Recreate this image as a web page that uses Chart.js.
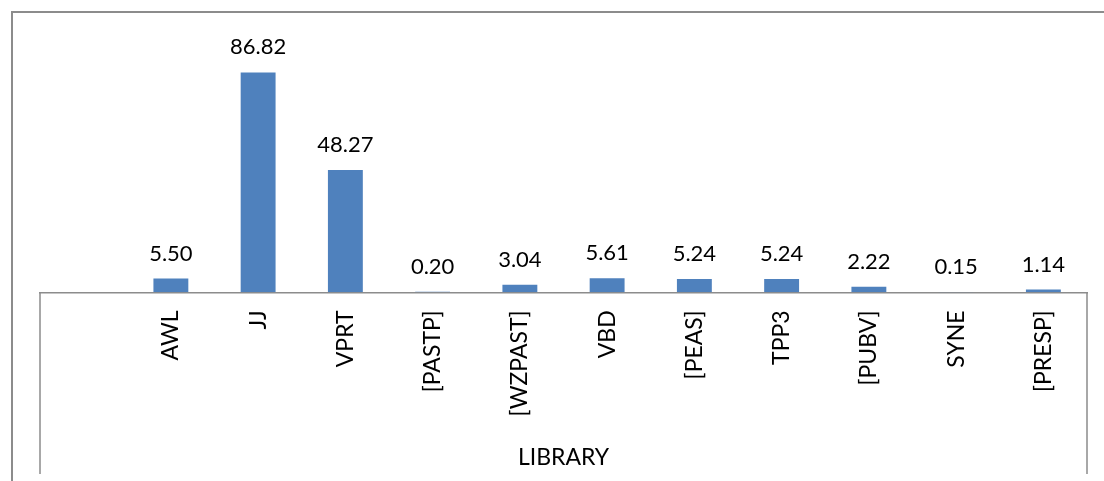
<!DOCTYPE html>
<html>
<head>
<meta charset="utf-8">
<script src="https://cdn.jsdelivr.net/npm/chart.js@4"></script>
<style>
  body { margin: 0; background: #fff; overflow: hidden; }
  #wrap { position: relative; width: 1104px; height: 481px; }
  #frame {
    position: absolute; left: 11px; top: 11px; width: 1200px; height: 600px;
    border-top: 2px solid #8c8c8c; border-left: 2px solid #8c8c8c;
    pointer-events: none;
  }
</style>
</head>
<body>
<div id="wrap">
  <canvas id="chart" width="1104" height="481"></canvas>
  <div id="frame"></div>
</div>
<script>
const categories = ["", "AWL", "JJ", "VPRT", "[PASTP]", "[WZPAST]", "VBD", "[PEAS]", "TPP3", "[PUBV]", "SYNE", "[PRESP]"];
const values = [null, 5.50, 86.82, 48.27, 0.20, 3.04, 5.61, 5.24, 5.24, 2.22, 0.15, 1.14];
const groupLabel = "LIBRARY";

const FONT = "Lato, 'Liberation Sans', sans-serif";
const GRAY = "#8c8c8c";

// value labels above each bar
const barLabels = {
  id: "barLabels",
  afterDatasetsDraw(chart) {
    const { ctx } = chart;
    const meta = chart.getDatasetMeta(0);
    ctx.save();
    ctx.font = "22px " + FONT;
    ctx.fillStyle = "#000";
    ctx.textAlign = "center";
    ctx.textBaseline = "middle";
    meta.data.forEach((bar, i) => {
      if (values[i] == null) return;
      ctx.fillText(values[i].toFixed(2), bar.x, bar.y - 25);
    });
    ctx.restore();
  },
};

// side lines of the category group box
const groupBox = {
  id: "groupBox",
  afterDraw(chart) {
    const { ctx, chartArea } = chart;
    ctx.save();
    ctx.strokeStyle = GRAY;
    ctx.lineWidth = 1.5;
    ctx.beginPath();
    [chartArea.left, chartArea.right].forEach((x) => {
      ctx.moveTo(x, chartArea.bottom);
      ctx.lineTo(x, chart.height - 7);
    });
    ctx.stroke();
    ctx.restore();
  },
};

new Chart(document.getElementById("chart"), {
  type: "bar",
  data: {
    labels: categories,
    datasets: [
      {
        data: values,
        backgroundColor: "#4f81bd",
        categoryPercentage: 1,
        barPercentage: 0.4,
      },
    ],
  },
  options: {
    responsive: false,
    animation: false,
    layout: { padding: { top: 39, left: 40, right: 17, bottom: 6 } },
    plugins: {
      legend: { display: false },
      tooltip: { enabled: false },
    },
    scales: {
      x: {
        grid: { display: false, drawTicks: false },
        border: { display: true, color: GRAY, width: 1.5 },
        ticks: {
          color: "#000",
          font: { family: FONT, size: 23 },
          minRotation: 90,
          maxRotation: 90,
          padding: 18,
          autoSkip: false,
        },
        title: {
          display: true,
          text: groupLabel,
          color: "#000",
          font: { family: FONT, size: 23 },
          padding: { top: 9, bottom: 4 },
        },
      },
      y: {
        display: false,
        min: 0,
        max: 100,
      },
    },
  },
  plugins: [barLabels, groupBox],
});
</script>
</body>
</html>
